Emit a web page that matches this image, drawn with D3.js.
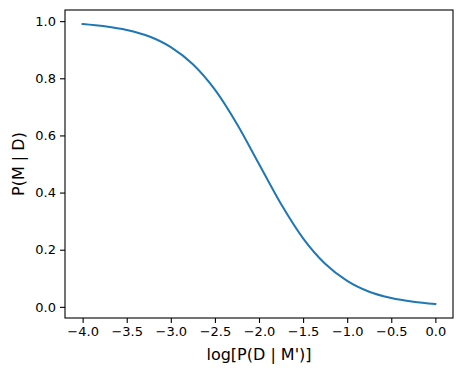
<!DOCTYPE html>
<html lang="en">
<head>
<meta charset="utf-8">
<title>P(M | D)</title>
<script src="https://d3js.org/d3.v7.min.js"></script>
<style>
  body{margin:0;background:#fff;font-family:"DejaVu Sans",sans-serif;}
  .tick text{font-size:13px;fill:#000;font-family:"DejaVu Sans",sans-serif;}
  .tick line{stroke:#000;stroke-width:1.1;}
  .domain{display:none;}
</style>
</head>
<body>
<div id="chart"></div>
<script>
// values
var logLik = [-4.0,-3.75,-3.5,-3.25,-3.0,-2.75,-2.5,-2.25,-2.0,-1.75,-1.5,-1.25,-1.0,-0.75,-0.5,-0.25,0.0]
var posterior = [0.990,0.982,0.969,0.947,0.909,0.849,0.760,0.640,0.500,0.360,0.240,0.151,0.091,0.053,0.031,0.018,0.010]
var xTicks = [-4.0,-3.5,-3.0,-2.5,-2.0,-1.5,-1.0,-0.5,0.0]
var yTicks = [0.0,0.2,0.4,0.6,0.8,1.0]

var W = 462, H = 375
var pLeft = 65, pTop = 10, pRight = 453, pBottom = 318

var svg = d3.select("#chart").append("svg")
    .attr("width", W)
    .attr("height", H)

var x = d3.scaleLinear().domain([-4.2, 0.2]).range([pLeft, pRight])
var y = d3.scaleLinear().domain([-0.039, 1.039]).range([pBottom, pTop])

var fmt = function(d){ return d3.format(".1f")(d).replace("-", "\u2212") }

svg.append("g")
    .attr("transform", "translate(0," + pBottom + ")")
    .call(d3.axisBottom(x).tickValues(xTicks).tickSize(5).tickPadding(4).tickFormat(fmt))

svg.append("g")
    .attr("transform", "translate(" + pLeft + ",0)")
    .call(d3.axisLeft(y).tickValues(yTicks).tickSize(5).tickPadding(4).tickFormat(fmt))

var pts = logLik.map(function(v, i){ return [v, posterior[i]] })

svg.append("path")
    .datum(pts)
    .attr("fill", "none")
    .attr("stroke", "#1f77b4")
    .attr("stroke-width", 2)
    .attr("stroke-linecap", "square")
    .attr("d", d3.line()
        .x(function(d){ return x(d[0]) })
        .y(function(d){ return y(d[1]) })
        .curve(d3.curveMonotoneX))

// frame
svg.append("rect")
    .attr("x", pLeft).attr("y", pTop)
    .attr("width", pRight - pLeft).attr("height", pBottom - pTop)
    .attr("fill", "none")
    .attr("stroke", "#000")
    .attr("stroke-width", 1.1)

svg.append("text")
    .attr("x", (pLeft + pRight) / 2)
    .attr("y", 360)
    .attr("text-anchor", "middle")
    .style("font-size", "16px")
    .text("log[P(D | M')]")

svg.append("text")
    .attr("transform", "translate(24," + (pTop + pBottom) / 2 + ") rotate(-90)")
    .attr("text-anchor", "middle")
    .style("font-size", "16px")
    .text("P(M | D)")
</script>
</body>
</html>
